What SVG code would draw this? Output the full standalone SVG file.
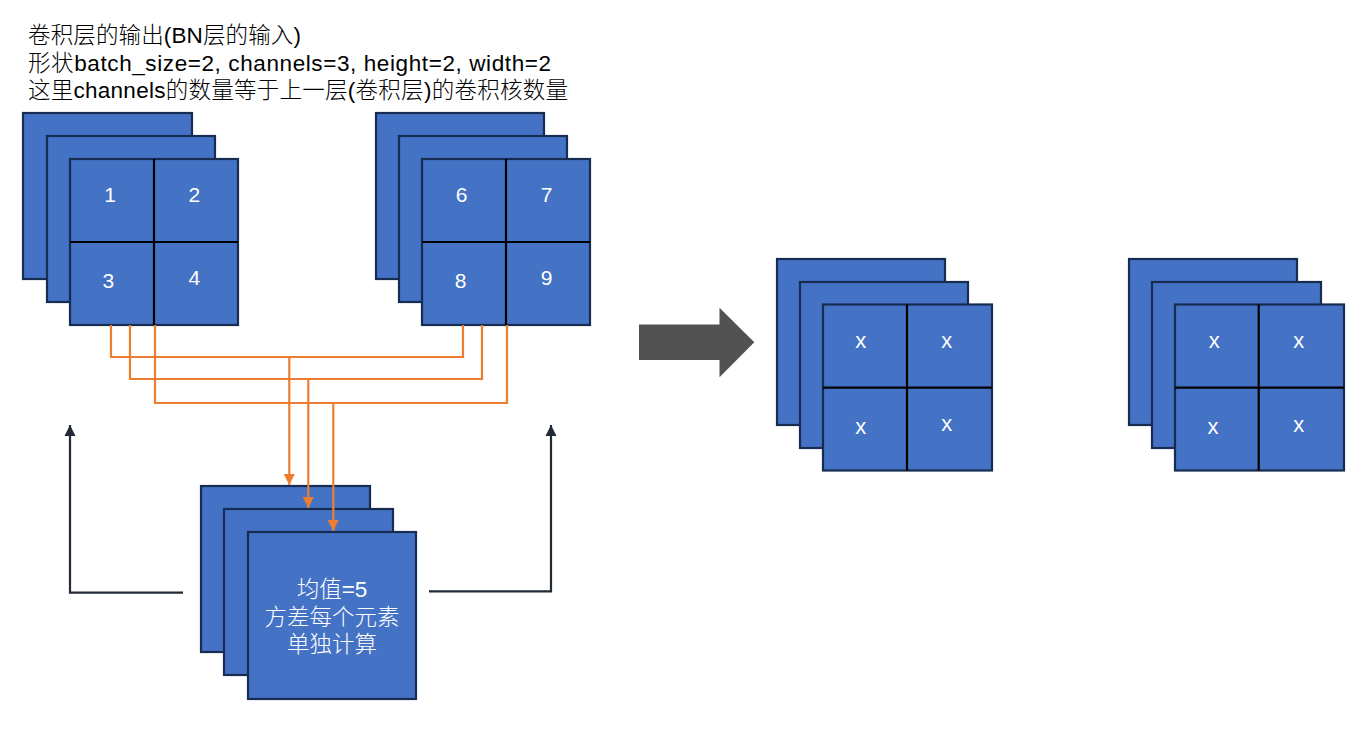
<svg xmlns="http://www.w3.org/2000/svg" width="1363" height="742" viewBox="0 0 1363 742">
<defs>
<style>
.t{font-family:"Liberation Sans","Noto Sans CJK SC",sans-serif;font-weight:300;}
.cap{font-size:22.5px;fill:#000;}
.sheet{fill:#4472C4;stroke:#172C51;stroke-width:2.2;}
.grid{stroke:#000;stroke-width:2.2;fill:none;}
.num{font-size:21px;fill:#fff;text-anchor:middle;}
.x{font-size:22px;fill:#fff;text-anchor:middle;}
.lbl{font-size:22.5px;fill:#fff;text-anchor:middle;}
.or{fill:none;stroke:#ED7D31;stroke-width:2.2;}
.dk{fill:none;stroke:#222A35;stroke-width:2.2;}
</style>
<marker id="ao" viewBox="0 0 10 10" refX="10" refY="5" markerWidth="5" markerHeight="5" markerUnits="strokeWidth" orient="auto">
<path d="M0,0 L10,5 L0,10 z" fill="#ED7D31"/>
</marker>
<marker id="ad" viewBox="0 0 10 10" refX="10" refY="5" markerWidth="5.2" markerHeight="5.2" markerUnits="strokeWidth" orient="auto">
<path d="M0,0 L10,5 L0,10 z" fill="#222A35"/>
</marker>
</defs>
<rect width="1363" height="742" fill="#fff"/>

<g id="caption" class="t cap">
<text x="28" y="43" textLength="273" lengthAdjust="spacing">卷积层的输出(BN层的输入)</text>
<text x="28" y="70.5" textLength="523" lengthAdjust="spacing">形状batch_size=2, channels=3, height=2, width=2</text>
<text x="28" y="98" textLength="540" lengthAdjust="spacing">这里channels的数量等于上一层(卷积层)的卷积核数量</text>
</g>

<g id="input-batch1">
<rect class="sheet" x="23" y="113" width="169" height="166"/>
<rect class="sheet" x="47" y="136" width="168" height="166"/>
<rect class="sheet" x="70" y="159" width="168" height="166"/>
<line class="grid" x1="154" y1="159" x2="154" y2="325"/>
<line class="grid" x1="70" y1="242" x2="238" y2="242"/>
<g class="t num">
<text x="110" y="202">1</text>
<text x="194.3" y="202">2</text>
<text x="108.3" y="288">3</text>
<text x="194.3" y="285">4</text>
</g>
</g>

<g id="input-batch2">
<rect class="sheet" x="376" y="113" width="168" height="166"/>
<rect class="sheet" x="399" y="136" width="168" height="166"/>
<rect class="sheet" x="422" y="159" width="168" height="166"/>
<line class="grid" x1="506" y1="159" x2="506" y2="325"/>
<line class="grid" x1="422" y1="242" x2="590" y2="242"/>
<g class="t num">
<text x="461.7" y="202">6</text>
<text x="546.7" y="202">7</text>
<text x="460.7" y="288">8</text>
<text x="546.7" y="285">9</text>
</g>
</g>

<g id="stats">
<rect class="sheet" x="201" y="486" width="169" height="166"/>
<rect class="sheet" x="224" y="509" width="169" height="166"/>
<rect class="sheet" x="248" y="532" width="168" height="167"/>
<g class="t lbl">
<text x="332" y="597">均值=5</text>
<text x="332" y="624.5">方差每个元素</text>
<text x="332" y="652">单独计算</text>
</g>
</g>

<g id="big-arrow">
<polygon points="639,324.5 719.5,324.5 719.5,307.7 754.3,342.3 719.5,377.3 719.5,360 639,360" fill="#525252"/>
</g>

<g id="output-batch1">
<rect class="sheet" x="777" y="259" width="168" height="166"/>
<rect class="sheet" x="800" y="282" width="168" height="166"/>
<rect class="sheet" x="823" y="304.5" width="169" height="166"/>
<line class="grid" x1="907" y1="304.5" x2="907" y2="470.5"/>
<line class="grid" x1="823" y1="387.7" x2="992" y2="387.7"/>
<g class="t x">
<text x="860.7" y="347.7">x</text>
<text x="946.7" y="347.7">x</text>
<text x="860.7" y="433.7">x</text>
<text x="946.7" y="431">x</text>
</g>
</g>

<g id="output-batch2">
<rect class="sheet" x="1129" y="259" width="168" height="166"/>
<rect class="sheet" x="1152" y="282" width="169" height="166"/>
<rect class="sheet" x="1175" y="304.5" width="169" height="166"/>
<line class="grid" x1="1258.7" y1="304.5" x2="1258.7" y2="470.5"/>
<line class="grid" x1="1175" y1="387.7" x2="1344" y2="387.7"/>
<g class="t x">
<text x="1214.3" y="348.3">x</text>
<text x="1298.7" y="348.3">x</text>
<text x="1213" y="433.7">x</text>
<text x="1298.7" y="431.7">x</text>
</g>
</g>

<g id="connectors">
<polyline class="or" points="111,325 111,357 463,357 463,325"/>
<polyline class="or" points="130,325 130,379 482,379 482,325"/>
<polyline class="or" points="155,325 155,403 507,403 507,325"/>
<line class="or" x1="289.3" y1="357" x2="289.3" y2="485" marker-end="url(#ao)"/>
<line class="or" x1="308.3" y1="379" x2="308.3" y2="508" marker-end="url(#ao)"/>
<line class="or" x1="333.3" y1="403" x2="333.3" y2="531" marker-end="url(#ao)"/>
<polyline class="dk" points="183,592.7 70,592.7 70,425" marker-end="url(#ad)"/>
<polyline class="dk" points="429,591.3 551,591.3 551,425" marker-end="url(#ad)"/>
</g>
</svg>
